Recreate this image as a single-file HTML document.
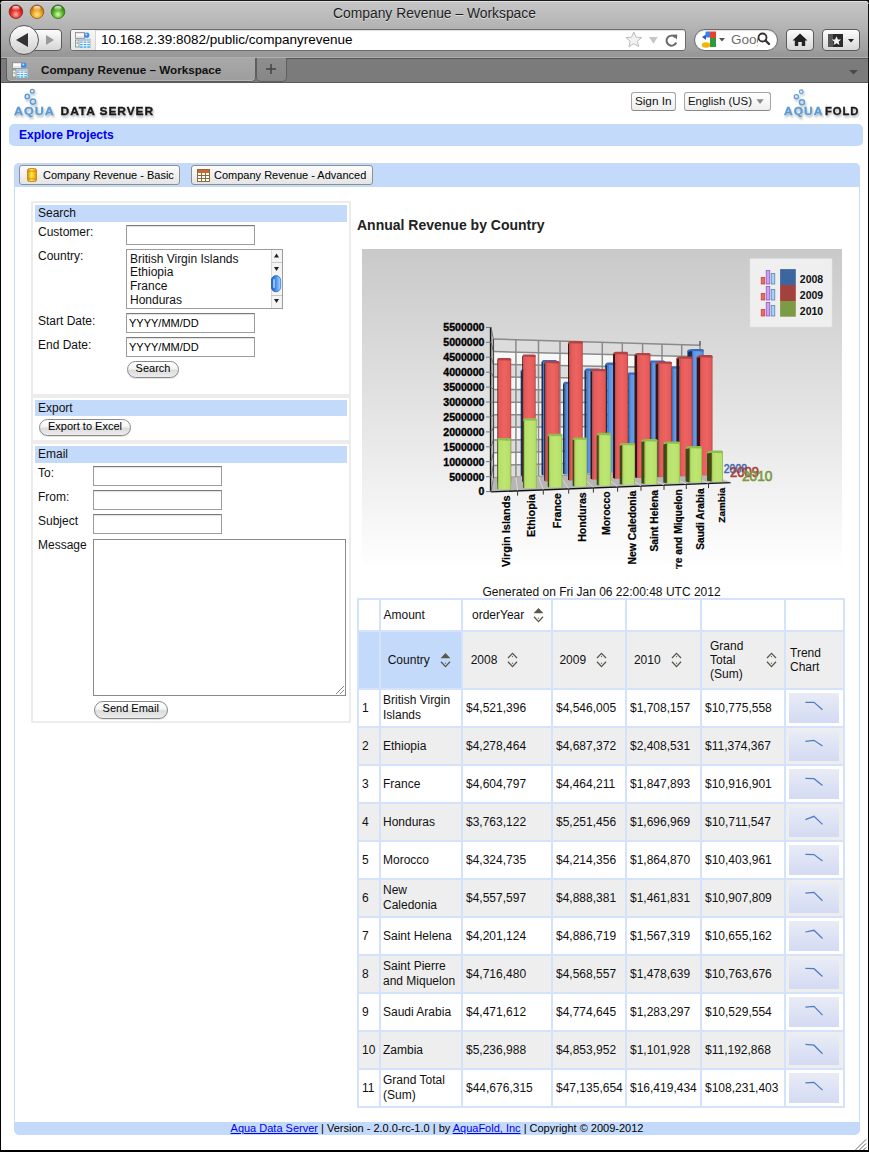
<!DOCTYPE html>
<html><head><meta charset="utf-8">
<style>
*{box-sizing:border-box;margin:0;padding:0}
html,body{width:869px;height:1152px;overflow:hidden;background:#000;font-family:"Liberation Sans",sans-serif;font-size:12px;color:#000}
.a{position:absolute}
#chrome{position:absolute;left:0;top:0;width:869px;height:58px;background:linear-gradient(#1a1a1a 0,#1a1a1a 1px,#e0e0e0 1px,#e0e0e0 2px,#c6c6c6 2px,#b2b2b2 29px,#a0a0a0 50px,#9a9a9a 52px,#979797 57px,#b0b0b0 57px);border-radius:5px 5px 0 0}
#tabbar{position:absolute;left:1px;top:58px;width:867px;height:25px;background:#7b7b7b;border-top:1px solid #555;border-bottom:1px solid #5a5a5a}
#content{position:absolute;left:1px;top:83px;width:867px;height:1067px;background:#fff;overflow:hidden}
.tl{position:absolute;top:5px;width:14px;height:14px;border-radius:50%}
.title{position:absolute;top:3.5px;left:0;width:869px;text-align:center;font-size:13.85px;color:#1e1e1e;text-shadow:0 1px 0 rgba(255,255,255,.5)}
.btn{position:absolute;border:1px solid #5c5c5c;background:linear-gradient(#fdfdfd,#d6d6d6);border-radius:4px}
.tbtn{border:1px solid #8f8f8f;border-radius:3px;background:linear-gradient(#fdfdfd,#e4e4e4)}
.pill{position:absolute;border:1px solid #8a8a8a;border-radius:9px;background:linear-gradient(#fff 0%,#f4f4f4 45%,#dcdcdc 55%,#ececec 100%);font-size:11px;text-align:center;box-shadow:0 1px 0 rgba(0,0,0,.1)}
.inp{position:absolute;border:1px solid #9c9c9c;border-top-color:#7a7a7a;background:#fff;box-shadow:inset 0 1px 1px rgba(0,0,0,.12)}
.sech{position:absolute;left:35px;width:312px;height:17px;background:#c4dafb;font-size:12px;line-height:17px;padding-left:3px;color:#111}
.lbl{position:absolute;left:38px;font-size:12px;color:#111}
.cl{border:1px solid #d4e3fb;overflow:hidden}
.t{position:absolute;font-size:12px;color:#111;white-space:nowrap}
.trend{background:linear-gradient(#e9ecf6,#d3daf2)}
</style></head><body>
<svg width="0" height="0" style="position:absolute"><defs>
<symbol id="fav" viewBox="0 0 16 16">
  <rect x="0.5" y="0.5" width="9" height="6" fill="#e6e6e6" stroke="#8a8a8a" stroke-width="0.8"/>
  <rect x="1.5" y="2" width="7" height="2" fill="#fff"/>
  <circle cx="11.8" cy="3.2" r="2.6" fill="#3a8ee8"/>
  <circle cx="11.3" cy="2.6" r="1" fill="#bfe0ff"/>
  <rect x="0.5" y="8" width="3.5" height="7" fill="#eee" stroke="#8a8a8a" stroke-width="0.8"/>
  <circle cx="2.2" cy="11" r="0.8" fill="#30c030"/>
  <rect x="4.5" y="7" width="11" height="9" fill="#fff" stroke="#9ab" stroke-width="0.5"/>
  <rect x="4.5" y="7" width="11" height="2" fill="#b8c8d8"/>
  <path d="M5 10.2H15M5 12.6H15M5 15H15" stroke="#4aa8e8" stroke-width="1.3"/>
  <path d="M8.2 9V16M11.8 9V16" stroke="#fff" stroke-width="0.8"/>
</symbol></defs></svg>
<div id="chrome">
  <svg class="a" style="left:0;top:0" width="70" height="24">
    <defs>
      <radialGradient id="tlr" cx="50%" cy="70%" r="60%"><stop offset="0" stop-color="#ffb0a8"/><stop offset="0.55" stop-color="#e8332a"/><stop offset="1" stop-color="#b0150e"/></radialGradient>
      <radialGradient id="tlo" cx="50%" cy="70%" r="60%"><stop offset="0" stop-color="#ffe9a0"/><stop offset="0.55" stop-color="#f2a51c"/><stop offset="1" stop-color="#b8650a"/></radialGradient>
      <radialGradient id="tlg" cx="50%" cy="70%" r="60%"><stop offset="0" stop-color="#d8ffb0"/><stop offset="0.55" stop-color="#5cb82a"/><stop offset="1" stop-color="#2e7a10"/></radialGradient>
      <linearGradient id="tlh" x1="0" y1="0" x2="0" y2="1"><stop offset="0" stop-color="#fff" stop-opacity="0.95"/><stop offset="1" stop-color="#fff" stop-opacity="0"/></linearGradient>
    </defs>
    <circle cx="15.9" cy="11.7" r="6.8" fill="url(#tlr)" stroke="#7a2520" stroke-width="0.8"/>
    <ellipse cx="15.9" cy="8.3" rx="3.6" ry="2.4" fill="url(#tlh)"/>
    <circle cx="37" cy="11.7" r="6.8" fill="url(#tlo)" stroke="#8a5a18" stroke-width="0.8"/>
    <ellipse cx="37" cy="8.3" rx="3.6" ry="2.4" fill="url(#tlh)"/>
    <circle cx="58" cy="11.7" r="6.8" fill="url(#tlg)" stroke="#2f6a1a" stroke-width="0.8"/>
    <ellipse cx="58" cy="8.3" rx="3.6" ry="2.4" fill="url(#tlh)"/>
  </svg>
  <div class="title" style="top:4.5px">Company Revenue – Workspace</div>
  <!-- back/forward -->
  <div class="btn" style="left:34px;top:29px;width:28px;height:22px;border-radius:0 4px 4px 0"></div>
  <div class="a" style="left:9px;top:25px;width:30px;height:30px;border-radius:50%;border:1px solid #555;background:linear-gradient(#fefefe,#d0d0d0)"></div>
  <svg class="a" style="left:0;top:0" width="869" height="58">
    <path d="M16 40 L28 33 L28 47 Z" fill="#333"/>
    <path d="M46 35 L54 40 L46 45 Z" fill="#9a9a9a"/>
  </svg>
  <!-- url bar -->
  <div class="a" style="left:70px;top:29px;width:616px;height:22px;background:#fff;border:1px solid #6a6a6a;border-radius:3px;box-shadow:inset 0 1px 1px rgba(0,0,0,.12)"></div>
  <div class="a" style="left:71px;top:30px;width:25px;height:20px;background:linear-gradient(#f6f6f6,#e8e8e8);border-right:1px solid #d4d4d4;border-radius:2px 0 0 2px"></div>
  <svg class="a" style="left:75px;top:32px" width="16" height="16"><use href="#fav"/></svg>
  <div class="a" style="left:101px;top:32px;font-size:13.5px;color:#000">10.168.2.39:8082/public/companyrevenue</div>
  <svg class="a" style="left:620px;top:25px" width="70" height="30">
    <path d="M13.8 7 L16.1 12.2 L21.6 12.6 L17.4 16.2 L18.7 21.6 L13.8 18.7 L8.9 21.6 L10.2 16.2 L6 12.6 L11.5 12.2Z" fill="#f2f2f2" stroke="#b4b4b4" stroke-width="0.9" stroke-linejoin="round"/>
    <path d="M29 12 L37.8 12 L33.4 18.8Z" fill="#c6c6c6"/>
    <path d="M55.3 12.3 A5 5 0 1 0 56.2 17.5" fill="none" stroke="#6a6a6a" stroke-width="2"/>
    <path d="M52.5 9.8 L57.3 9.6 L56.8 14.4Z" fill="#6a6a6a"/>
  </svg>
  <!-- google -->
  <div class="a" style="left:694px;top:29px;width:84px;height:22px;background:#fff;border:1px solid #6a6a6a;border-radius:11px;box-shadow:inset 0 1px 1px rgba(0,0,0,.12)"></div>
  <svg class="a" style="left:700px;top:31px" width="30" height="18">
    <path d="M2 6 L6 3.5 L6 9Z" fill="#2a5bc8"/>
    <rect x="5.5" y="0.5" width="5" height="6" rx="1" fill="#3b7ee8"/>
    <rect x="10" y="0.5" width="6" height="7" fill="#e8412c"/>
    <rect x="10" y="7" width="6" height="9" fill="#2e9a3a"/>
    <ellipse cx="6" cy="14" rx="4.2" ry="2.8" fill="#f4b400"/>
    <path d="M19 7 L25 7 L22 10.5Z" fill="#555"/>
  </svg>
  <div class="a" style="left:731px;top:32px;font-size:13.5px;color:#6d6d6d;width:27px;overflow:hidden;white-space:nowrap">Goog</div>
  <svg class="a" style="left:756px;top:31px" width="16" height="16"><circle cx="6.5" cy="6.5" r="4" fill="none" stroke="#333" stroke-width="1.8"/><path d="M9.5 9.5 L13 13" stroke="#333" stroke-width="2.4" stroke-linecap="round"/></svg>
  <!-- home / bookmarks -->
  <div class="btn" style="left:786px;top:29px;width:28px;height:22px;border-color:#5a5a5a"></div>
  <svg class="a" style="left:790px;top:31px" width="20" height="18"><path d="M10 2.5 L17.5 9.5 L15.2 9.5 L15.2 15 L11.8 15 L11.8 11 L8.2 11 L8.2 15 L4.8 15 L4.8 9.5 L2.5 9.5Z" fill="#222"/></svg>
  <div class="btn" style="left:822px;top:29px;width:38px;height:22px;border-color:#5a5a5a"></div>
  <svg class="a" style="left:826px;top:31px" width="32" height="18">
    <rect x="2" y="3" width="15" height="13" fill="#2a2a2a"/>
    <rect x="2" y="3" width="5" height="13" fill="#555"/>
    <path d="M10.5 5.2 L11.9 8.4 L15.2 8.6 L12.6 10.8 L13.5 14 L10.5 12.2 L7.5 14 L8.4 10.8 L5.8 8.6 L9.1 8.4Z" fill="#f2f2f2"/>
    <path d="M22 8 L28 8 L25 11.5Z" fill="#222"/>
  </svg>
</div>
<div class="a" style="left:0;top:4px;width:1px;height:80px;background:#111"></div>
<div class="a" style="left:868px;top:4px;width:1px;height:80px;background:#111"></div>
<div id="tabbar">
  <div class="a" style="left:5px;top:-1px;width:250px;height:24px;background:linear-gradient(#a9a9a9,#9d9d9d);border:1px solid #5e5e5e;border-top:none;border-radius:0 0 5px 5px;box-shadow:inset 0 -1px 0 #b8b8b8"></div>
  <div class="a" style="left:255px;top:-1px;width:31px;height:24px;background:linear-gradient(#8e8e8e,#878787);border:1px solid #5e5e5e;border-top:none;border-radius:0 0 5px 5px"></div>
  <svg class="a" style="left:263px;top:3px" width="14" height="14"><path d="M7 2V12M2 7H12" stroke="#444" stroke-width="1.5"/></svg>
  <svg class="a" style="left:11px;top:3px" width="16" height="16"><use href="#fav"/></svg>
  <div class="a" style="left:40px;top:3.5px;font-size:11.7px;color:#111;font-weight:bold">Company Revenue – Workspace</div>
  <svg class="a" style="left:848px;top:10.5px" width="10" height="6"><path d="M0 0 H9 L4.5 4.5Z" fill="#4a4a4a"/></svg>
</div>
<div id="content">
<div id="pg" class="a" style="left:-1px;top:-83px;width:869px;height:1152px">
  <!-- logo left -->
  <svg class="a" style="left:0;top:80px" width="869" height="45">
    <defs><filter id="sh" x="-10%" y="-20%" width="130%" height="160%"><feGaussianBlur in="SourceAlpha" stdDeviation="0.9"/><feOffset dx="1" dy="1.5"/><feComponentTransfer><feFuncA type="linear" slope="0.3"/></feComponentTransfer><feMerge><feMergeNode/><feMergeNode in="SourceGraphic"/></feMerge></filter></defs>
    <g filter="url(#sh)" transform="translate(0,-80)">
    <circle cx="32.3" cy="91.2" r="1.9" fill="none" stroke="#5b9bd5" stroke-width="1.3"/>
    <circle cx="27.3" cy="96.5" r="2.2" fill="none" stroke="#5b9bd5" stroke-width="1.4"/>
    <circle cx="33" cy="101.6" r="2.6" fill="none" stroke="#5b9bd5" stroke-width="1.5"/>
    <text x="14" y="114.5" font-family="Liberation Sans" font-weight="bold" font-size="11.8" textLength="40.7" lengthAdjust="spacingAndGlyphs" letter-spacing="0.9" fill="#5b9bd5" stroke="#5b9bd5" stroke-width="0.3">AQUA</text>
    <text x="60.6" y="114.5" font-family="Liberation Sans" font-weight="bold" font-size="11.8" textLength="93.4" lengthAdjust="spacingAndGlyphs" letter-spacing="0.9" fill="#1a1a1a" stroke="#1a1a1a" stroke-width="0.35">DATA SERVER</text>
    <circle cx="801.3" cy="91.7" r="1.8" fill="none" stroke="#5b9bd5" stroke-width="1.2"/>
    <circle cx="796.4" cy="96.8" r="2.1" fill="none" stroke="#5b9bd5" stroke-width="1.3"/>
    <circle cx="802" cy="102.2" r="2.5" fill="none" stroke="#5b9bd5" stroke-width="1.4"/>
    <text x="784.1" y="114.5" font-family="Liberation Sans" font-weight="bold" font-size="10.9" textLength="39.4" lengthAdjust="spacingAndGlyphs" letter-spacing="0.9" fill="#5b9bd5" stroke="#5b9bd5" stroke-width="0.3">AQUA</text>
    <text x="825" y="114.5" font-family="Liberation Sans" font-weight="bold" font-size="10.9" textLength="34.4" lengthAdjust="spacingAndGlyphs" letter-spacing="0.9" fill="#1a1a1a" stroke="#1a1a1a" stroke-width="0.3">FOLD</text>
    </g>
  </svg>
  <!-- sign in / english -->
  <div class="a" style="left:631px;top:91.5px;width:44.5px;height:19px;border:1px solid #a4a4a4;border-bottom-color:#8a8a8a;border-radius:3px;background:linear-gradient(#fff,#eeeeee);font-size:11.8px;line-height:17px;text-align:center;color:#111">Sign In</div>
  <div class="a" style="left:683.5px;top:91.5px;width:87.5px;height:19px;border:1px solid #a4a4a4;border-bottom-color:#8a8a8a;border-radius:3px;background:linear-gradient(#fff,#eeeeee);font-size:11.4px;line-height:17px;padding-left:3.5px;color:#111">English (US)</div>
  <svg class="a" style="left:755.5px;top:99px" width="9" height="6"><path d="M0.5 0.2 H7.7 L4.1 4.9Z" fill="#8a8a8a"/></svg>
  <!-- explore projects -->
  <div class="a" style="left:9px;top:124px;width:854px;height:22px;background:#c4dafb;border-radius:5px"></div>
  <div class="a" style="left:19px;top:128px;font-size:12px;font-weight:bold;color:#0000ee">Explore Projects</div>
  <!-- panel -->
  <div class="a" style="left:14px;top:163px;width:846px;height:972px;border:1px solid #c4dafb;border-radius:5px 5px 5px 5px;background:#fff"></div>
  <div class="a" style="left:14px;top:163px;width:846px;height:24px;background:#c4dafb;border-radius:5px 5px 0 0"></div>
  <div class="a" style="left:14px;top:1122px;width:846px;height:13px;background:#c4dafb;border-radius:0 0 6px 6px"></div>
  <svg class="a" style="left:854px;top:1138px" width="13" height="12"><path d="M12 1.5L1.5 12M12 5.5L5.5 12M12 9.5L9.5 12" stroke="#555" stroke-width="1"/><path d="M12 2.5L2.5 12M12 6.5L6.5 12" stroke="#fff" stroke-width="0.6"/></svg>
  <div class="a" style="left:14px;top:1122px;width:846px;text-align:center;font-size:11px;line-height:13px;color:#000"><u style="color:#0000ee">Aqua Data Server</u> | Version - 2.0.0-rc-1.0 | by <u style="color:#0000ee">AquaFold, Inc</u> | Copyright © 2009-2012</div>
  <!-- tab buttons -->
  <div class="a tbtn" style="left:19px;top:165px;width:161px;height:20px"></div>
  <svg class="a" style="left:27px;top:167.5px" width="10" height="14"><defs><linearGradient id="cyl" x1="0" x2="1"><stop offset="0" stop-color="#e08a00"/><stop offset="0.45" stop-color="#fff04a"/><stop offset="1" stop-color="#e89000"/></linearGradient></defs><rect x="0.5" y="0.5" width="9" height="13" rx="2" fill="url(#cyl)" stroke="#c07a10" stroke-width="0.8"/><path d="M0.8 3.2H9.2M0.8 10.8H9.2" stroke="#e87a10" stroke-width="0.9"/></svg>
  <div class="a" style="left:43px;top:169px;font-size:11px">Company Revenue - Basic</div>
  <div class="a tbtn" style="left:191px;top:165px;width:182px;height:20px"></div>
  <svg class="a" style="left:197px;top:168.7px" width="14" height="14"><rect x="0.5" y="0.5" width="12" height="12" fill="#fff" stroke="#8a6a3a"/><rect x="1" y="1" width="11" height="3" fill="#c96a2a"/><path d="M1 6.5H12M1 9.5H12M4.5 4V12.5M8.5 4V12.5" stroke="#8a6a3a" stroke-width="1"/></svg>
  <div class="a" style="left:214px;top:169px;font-size:11px">Company Revenue - Advanced</div>
<!-- sidebar -->
  <div class="a" style="left:31px;top:201px;width:320px;height:522px;border:2px solid #ececec;background:#fff"></div>
  <div class="a" style="left:33px;top:394px;width:316px;height:4px;background:#ececec"></div>
  <div class="a" style="left:33px;top:440px;width:316px;height:4px;background:#ececec"></div>
  <div class="sech" style="top:205px">Search</div>
  <div class="lbl" style="top:225px">Customer:</div>
  <div class="inp" style="left:126px;top:225px;width:129px;height:20px"></div>
  <div class="lbl" style="top:249px">Country:</div>
  <div class="inp" style="left:126px;top:249px;width:157px;height:60px;box-shadow:none;border-color:#9c9c9c"></div>
  <div class="a" style="left:130px;top:252.5px;font-size:12px;line-height:13.75px;color:#111">British Virgin Islands<br>Ethiopia<br>France<br>Honduras</div>
  <svg class="a" style="left:271px;top:250px" width="11" height="58">
    <rect x="0" y="0" width="11" height="58" fill="#f4f4f4"/>
    <path d="M0.5 0V58" stroke="#d8d8d8"/>
    <path d="M3 7.5 L5.5 3.5 L8 7.5Z" fill="#222"/>
    <path d="M0 12.5H11" stroke="#c8c8c8"/>
    <path d="M3 17 L5.5 21 L8 17Z" fill="#222"/>
    <defs><linearGradient id="thb" x1="0" x2="1"><stop offset="0" stop-color="#1f5ad0"/><stop offset="0.5" stop-color="#4a90ee"/><stop offset="1" stop-color="#9fdcff"/></linearGradient></defs>
    <rect x="0.3" y="25.6" width="9.4" height="16.2" rx="4.7" fill="url(#thb)" stroke="#1a48b0" stroke-width="0.6"/>
    <rect x="2.2" y="29" width="1.6" height="9" rx="0.8" fill="#c8e4ff" opacity="0.85"/>
    <path d="M0 45.5H11" stroke="#c8c8c8"/>
    <path d="M3 49 L5.5 53 L8 49Z" fill="#222"/>
  </svg>
  <div class="lbl" style="top:314px">Start Date:</div>
  <div class="inp" style="left:126px;top:313px;width:129px;height:20px;font-size:11px;line-height:18px;padding-left:2px">YYYY/MM/DD</div>
  <div class="lbl" style="top:338px">End Date:</div>
  <div class="inp" style="left:126px;top:337px;width:129px;height:20px;font-size:11px;line-height:18px;padding-left:2px">YYYY/MM/DD</div>
  <div class="pill" style="left:127px;top:361px;width:52px;height:17px;line-height:13px">Search</div>
  <div class="sech" style="top:400px;height:16px">Export</div>
  <div class="pill" style="left:39px;top:419px;width:92px;height:17px;line-height:13px">Export to Excel</div>
  <div class="sech" style="top:446px">Email</div>
  <div class="lbl" style="top:466px">To:</div>
  <div class="inp" style="left:93px;top:466px;width:129px;height:20px"></div>
  <div class="lbl" style="top:490px">From:</div>
  <div class="inp" style="left:93px;top:490px;width:129px;height:20px"></div>
  <div class="lbl" style="top:514px">Subject</div>
  <div class="inp" style="left:93px;top:514px;width:129px;height:20px"></div>
  <div class="lbl" style="top:538px">Message</div>
  <div class="inp" style="left:93px;top:539px;width:253px;height:157px;box-shadow:none;border-color:#8a8a8a"></div>
  <svg class="a" style="left:334px;top:684px" width="11" height="11"><path d="M10 2L2 10M10 6L6 10" stroke="#888" stroke-width="1"/></svg>
  <div class="pill" style="left:93.5px;top:701px;width:74.5px;height:17.5px;line-height:13px">Send Email</div>
<!-- chart -->
  <div class="a" style="left:357px;top:217px;font-size:14px;font-weight:bold;color:#222">Annual Revenue by Country</div>
  <svg class="a" style="left:362px;top:249px" width="480" height="320" viewBox="362 249 480 320">
<defs>
<linearGradient id="cbg" x1="0" y1="0" x2="0" y2="1"><stop offset="0" stop-color="#c9c9c9"/><stop offset="0.55" stop-color="#e6e6e6"/><stop offset="1" stop-color="#ffffff"/></linearGradient>
<linearGradient id="gR" x1="0" y1="0" x2="1" y2="0"><stop offset="0" stop-color="#b84444"/><stop offset="0.12" stop-color="#e65a58"/><stop offset="0.5" stop-color="#ec6462"/><stop offset="0.88" stop-color="#e65a58"/><stop offset="1" stop-color="#b04040"/></linearGradient>
<linearGradient id="gB" x1="0" y1="0" x2="1" y2="0"><stop offset="0" stop-color="#3a6ab0"/><stop offset="0.15" stop-color="#5a96e6"/><stop offset="0.5" stop-color="#67a2ee"/><stop offset="0.85" stop-color="#5a96e6"/><stop offset="1" stop-color="#3a68a8"/></linearGradient>
<linearGradient id="gG" x1="0" y1="0" x2="1" y2="0"><stop offset="0" stop-color="#8cb850"/><stop offset="0.12" stop-color="#b6e16a"/><stop offset="0.5" stop-color="#bde672"/><stop offset="0.88" stop-color="#b6e16a"/><stop offset="1" stop-color="#8cb44e"/></linearGradient>
</defs>
<rect x="362" y="249" width="480" height="320" fill="url(#cbg)"/>
<path d="M493.4 478.0 L700.0 471.6 L700.0 460.1 L493.4 465.4Z" fill="#dcdcdc"/>
<path d="M493.4 465.4 L700.0 460.1 L700.0 448.6 L493.4 452.7Z" fill="#f7f7f7"/>
<path d="M493.4 452.7 L700.0 448.6 L700.0 437.2 L493.4 440.1Z" fill="#dcdcdc"/>
<path d="M493.4 440.1 L700.0 437.2 L700.0 425.7 L493.4 427.5Z" fill="#f7f7f7"/>
<path d="M493.4 427.5 L700.0 425.7 L700.0 414.2 L493.4 414.8Z" fill="#dcdcdc"/>
<path d="M493.4 414.8 L700.0 414.2 L700.0 402.7 L493.4 402.2Z" fill="#f7f7f7"/>
<path d="M493.4 402.2 L700.0 402.7 L700.0 391.2 L493.4 389.5Z" fill="#dcdcdc"/>
<path d="M493.4 389.5 L700.0 391.2 L700.0 379.7 L493.4 376.9Z" fill="#f7f7f7"/>
<path d="M493.4 376.9 L700.0 379.7 L700.0 368.3 L493.4 364.3Z" fill="#dcdcdc"/>
<path d="M493.4 364.3 L700.0 368.3 L700.0 356.8 L493.4 351.6Z" fill="#f7f7f7"/>
<path d="M493.4 351.6 L700.0 356.8 L700.0 345.3 L493.4 339.0Z" fill="#dcdcdc"/>
<path d="M493.4 478.0 L700.0 471.6" stroke="#8a8a8a" stroke-width="1.5" fill="none"/>
<path d="M493.4 465.4 L700.0 460.1" stroke="#8a8a8a" stroke-width="1.5" fill="none"/>
<path d="M493.4 452.7 L700.0 448.6" stroke="#8a8a8a" stroke-width="1.5" fill="none"/>
<path d="M493.4 440.1 L700.0 437.2" stroke="#8a8a8a" stroke-width="1.5" fill="none"/>
<path d="M493.4 427.5 L700.0 425.7" stroke="#8a8a8a" stroke-width="1.5" fill="none"/>
<path d="M493.4 414.8 L700.0 414.2" stroke="#8a8a8a" stroke-width="1.5" fill="none"/>
<path d="M493.4 402.2 L700.0 402.7" stroke="#8a8a8a" stroke-width="1.5" fill="none"/>
<path d="M493.4 389.5 L700.0 391.2" stroke="#8a8a8a" stroke-width="1.5" fill="none"/>
<path d="M493.4 376.9 L700.0 379.7" stroke="#8a8a8a" stroke-width="1.5" fill="none"/>
<path d="M493.4 364.3 L700.0 368.3" stroke="#8a8a8a" stroke-width="1.5" fill="none"/>
<path d="M493.4 351.6 L700.0 356.8" stroke="#8a8a8a" stroke-width="1.5" fill="none"/>
<path d="M493.4 339.0 L700.0 345.3" stroke="#8a8a8a" stroke-width="1.5" fill="none"/>
<path d="M493.4 339.0 L493.4 478.0" stroke="#8a8a8a" stroke-width="1.5" fill="none"/>
<path d="M515.9 339.7 L515.9 477.3" stroke="#8a8a8a" stroke-width="1.5" fill="none"/>
<path d="M538.5 340.4 L538.5 476.6" stroke="#8a8a8a" stroke-width="1.5" fill="none"/>
<path d="M560 341.0 L560 475.9" stroke="#8a8a8a" stroke-width="1.5" fill="none"/>
<path d="M581.4 341.7 L581.4 475.3" stroke="#8a8a8a" stroke-width="1.5" fill="none"/>
<path d="M602.3 342.3 L602.3 474.6" stroke="#8a8a8a" stroke-width="1.5" fill="none"/>
<path d="M622.3 342.9 L622.3 474.0" stroke="#8a8a8a" stroke-width="1.5" fill="none"/>
<path d="M642.6 343.5 L642.6 473.4" stroke="#8a8a8a" stroke-width="1.5" fill="none"/>
<path d="M662 344.1 L662 472.8" stroke="#8a8a8a" stroke-width="1.5" fill="none"/>
<path d="M681.7 344.7 L681.7 472.2" stroke="#8a8a8a" stroke-width="1.5" fill="none"/>
<path d="M700 345.3 L700 471.6" stroke="#8a8a8a" stroke-width="1.5" fill="none"/>
<path d="M700 345.3 L700 341" stroke="#222" stroke-width="1"/>
<path d="M493.4 478.0 L700.0 471.6 L731.0 482.3 L491.0 491.6Z" fill="#b6b6b6"/>
<path d="M491.0 491.90000000000003 L731.0 482.6" stroke="#111" stroke-width="1.3"/>
<path d="M493.4 478.0 L491 491.6" stroke="#d8d8d8" stroke-width="1"/>
<path d="M515.9 477.3 L517.6 490.6" stroke="#d8d8d8" stroke-width="1"/>
<path d="M517.6 490.6 L517.6 495.6" stroke="#333" stroke-width="1"/>
<path d="M538.5 476.6 L543.3 489.6" stroke="#d8d8d8" stroke-width="1"/>
<path d="M543.3 489.6 L543.3 494.6" stroke="#333" stroke-width="1"/>
<path d="M560 475.9 L568.7 488.6" stroke="#d8d8d8" stroke-width="1"/>
<path d="M568.7 488.6 L568.7 493.6" stroke="#333" stroke-width="1"/>
<path d="M581.4 475.3 L593.4 487.6" stroke="#d8d8d8" stroke-width="1"/>
<path d="M593.4 487.6 L593.4 492.6" stroke="#333" stroke-width="1"/>
<path d="M602.3 474.6 L617.6 486.7" stroke="#d8d8d8" stroke-width="1"/>
<path d="M617.6 486.7 L617.6 491.7" stroke="#333" stroke-width="1"/>
<path d="M622.3 474.0 L641.0 485.8" stroke="#d8d8d8" stroke-width="1"/>
<path d="M641.0 485.8 L641.0 490.8" stroke="#333" stroke-width="1"/>
<path d="M642.6 473.4 L664.0 484.9" stroke="#d8d8d8" stroke-width="1"/>
<path d="M664.0 484.9 L664.0 489.9" stroke="#333" stroke-width="1"/>
<path d="M662 472.8 L686.3 484.0" stroke="#d8d8d8" stroke-width="1"/>
<path d="M686.3 484.0 L686.3 489.0" stroke="#333" stroke-width="1"/>
<path d="M681.7 472.2 L708.5 483.2" stroke="#d8d8d8" stroke-width="1"/>
<path d="M708.5 483.2 L708.5 488.2" stroke="#333" stroke-width="1"/>
<path d="M700 471.6 L731 482.3" stroke="#d8d8d8" stroke-width="1"/>
<path d="M490.6 327 L490.6 492" stroke="#111" stroke-width="1.5"/>
<path d="M486 491.6 L491 491.6 L493.4 478.0" stroke="#666" stroke-width="0.9" fill="none"/>
<text x="484.5" y="495.4" text-anchor="end" font-family="Liberation Sans" font-weight="bold" font-size="10.6" fill="#000" stroke="#000" stroke-width="0.35">0</text>
<path d="M486 476.7 L491 476.7 L493.4 465.4" stroke="#666" stroke-width="0.9" fill="none"/>
<text x="484.5" y="480.5" text-anchor="end" font-family="Liberation Sans" font-weight="bold" font-size="10.6" fill="#000" stroke="#000" stroke-width="0.35">500000</text>
<path d="M486 461.7 L491 461.7 L493.4 452.7" stroke="#666" stroke-width="0.9" fill="none"/>
<text x="484.5" y="465.5" text-anchor="end" font-family="Liberation Sans" font-weight="bold" font-size="10.6" fill="#000" stroke="#000" stroke-width="0.35">1000000</text>
<path d="M486 446.8 L491 446.8 L493.4 440.1" stroke="#666" stroke-width="0.9" fill="none"/>
<text x="484.5" y="450.6" text-anchor="end" font-family="Liberation Sans" font-weight="bold" font-size="10.6" fill="#000" stroke="#000" stroke-width="0.35">1500000</text>
<path d="M486 431.9 L491 431.9 L493.4 427.5" stroke="#666" stroke-width="0.9" fill="none"/>
<text x="484.5" y="435.7" text-anchor="end" font-family="Liberation Sans" font-weight="bold" font-size="10.6" fill="#000" stroke="#000" stroke-width="0.35">2000000</text>
<path d="M486 417.0 L491 417.0 L493.4 414.8" stroke="#666" stroke-width="0.9" fill="none"/>
<text x="484.5" y="420.8" text-anchor="end" font-family="Liberation Sans" font-weight="bold" font-size="10.6" fill="#000" stroke="#000" stroke-width="0.35">2500000</text>
<path d="M486 402.0 L491 402.0 L493.4 402.2" stroke="#666" stroke-width="0.9" fill="none"/>
<text x="484.5" y="405.8" text-anchor="end" font-family="Liberation Sans" font-weight="bold" font-size="10.6" fill="#000" stroke="#000" stroke-width="0.35">3000000</text>
<path d="M486 387.1 L491 387.1 L493.4 389.5" stroke="#666" stroke-width="0.9" fill="none"/>
<text x="484.5" y="390.9" text-anchor="end" font-family="Liberation Sans" font-weight="bold" font-size="10.6" fill="#000" stroke="#000" stroke-width="0.35">3500000</text>
<path d="M486 372.2 L491 372.2 L493.4 376.9" stroke="#666" stroke-width="0.9" fill="none"/>
<text x="484.5" y="376.0" text-anchor="end" font-family="Liberation Sans" font-weight="bold" font-size="10.6" fill="#000" stroke="#000" stroke-width="0.35">4000000</text>
<path d="M486 357.2 L491 357.2 L493.4 364.3" stroke="#666" stroke-width="0.9" fill="none"/>
<text x="484.5" y="361.0" text-anchor="end" font-family="Liberation Sans" font-weight="bold" font-size="10.6" fill="#000" stroke="#000" stroke-width="0.35">4500000</text>
<path d="M486 342.3 L491 342.3 L493.4 351.6" stroke="#666" stroke-width="0.9" fill="none"/>
<text x="484.5" y="346.1" text-anchor="end" font-family="Liberation Sans" font-weight="bold" font-size="10.6" fill="#000" stroke="#000" stroke-width="0.35">5000000</text>
<path d="M486 327.4 L491 327.4 L493.4 339.0" stroke="#666" stroke-width="0.9" fill="none"/>
<text x="484.5" y="331.2" text-anchor="end" font-family="Liberation Sans" font-weight="bold" font-size="10.6" fill="#000" stroke="#000" stroke-width="0.35">5500000</text>
<path d="M493.4 339 L493.4 478" stroke="#333" stroke-width="0.8"/>
<path d="M520.7 371.1 L522.5 370.1 L522.5 476.3 L520.7 475.5Z" fill="#1c2f55"/><rect x="522.5" y="369.6" width="12.7" height="106.7" fill="url(#gB)"/><path d="M520.7 371.2 L521.3 369.9 L522.5 369.0 L534.0 369.0 L535.2 370.4 L535.2 371.6 L522.5 371.2 L520.7 372.0Z" fill="#3a6ab8"/>
<path d="M541.5 362.2 L543.1 361.2 L543.1 475.4 L541.5 474.6Z" fill="#1c2f55"/><rect x="543.1" y="360.7" width="13.9" height="114.7" fill="url(#gB)"/><path d="M541.5 362.3 L542.1 361.0 L543.1 360.1 L555.8 360.1 L557.0 361.5 L557.0 362.7 L543.1 362.3 L541.5 363.1Z" fill="#3a6ab8"/>
<path d="M563.0 383.9 L564.8 382.9 L564.8 474.5 L563.0 473.7Z" fill="#1c2f55"/><rect x="564.8" y="382.4" width="14.2" height="92.1" fill="url(#gB)"/><path d="M563.0 384.0 L563.6 382.7 L564.8 381.8 L577.8 381.8 L579.0 383.2 L579.0 384.4 L564.8 384.0 L563.0 384.8Z" fill="#3a6ab8"/>
<path d="M584.5 370.7 L586.5 369.7 L586.5 473.6 L584.5 472.8Z" fill="#1c2f55"/><rect x="586.5" y="369.2" width="14.0" height="104.4" fill="url(#gB)"/><path d="M584.5 370.8 L585.1 369.5 L586.5 368.6 L599.3 368.6 L600.5 370.0 L600.5 371.2 L586.5 370.8 L584.5 371.6Z" fill="#3a6ab8"/>
<path d="M605.2 364.7 L607.4 363.7 L607.4 472.8 L605.2 472.0Z" fill="#1c2f55"/><rect x="607.4" y="363.2" width="14.1" height="109.6" fill="url(#gB)"/><path d="M605.2 364.8 L605.8 363.5 L607.4 362.6 L620.3 362.6 L621.5 364.0 L621.5 365.2 L607.4 364.8 L605.2 365.6Z" fill="#3a6ab8"/>
<path d="M626.5 374.5 L628.8 373.5 L628.8 472.0 L626.5 471.2Z" fill="#1c2f55"/><rect x="628.8" y="373.0" width="14.2" height="99.0" fill="url(#gB)"/><path d="M626.5 374.6 L627.1 373.3 L628.8 372.4 L641.8 372.4 L643.0 373.8 L643.0 375.0 L628.8 374.6 L626.5 375.4Z" fill="#3a6ab8"/>
<path d="M648.5 362.5 L651.0 361.5 L651.0 471.2 L648.5 470.4Z" fill="#1c2f55"/><rect x="651.0" y="361.0" width="14.2" height="110.2" fill="url(#gB)"/><path d="M648.5 362.6 L649.1 361.3 L651.0 360.4 L664.0 360.4 L665.2 361.8 L665.2 363.0 L651.0 362.6 L648.5 363.4Z" fill="#3a6ab8"/>
<path d="M669.5 368.3 L672.0 367.3 L672.0 470.4 L669.5 469.6Z" fill="#1c2f55"/><rect x="672.0" y="366.8" width="14.6" height="103.6" fill="url(#gB)"/><path d="M669.5 368.4 L670.1 367.1 L672.0 366.2 L685.4 366.2 L686.6 367.6 L686.6 368.8 L672.0 368.4 L669.5 369.2Z" fill="#3a6ab8"/>
<path d="M687.4 351.0 L692.0 350.0 L692.0 469.6 L687.4 468.8Z" fill="#1c2f55"/><rect x="692.0" y="349.5" width="11.6" height="120.1" fill="url(#gB)"/><path d="M687.4 351.1 L688.0 349.8 L692.0 348.9 L702.4 348.9 L703.6 350.3 L703.6 351.5 L692.0 351.1 L687.4 351.9Z" fill="#3a6ab8"/>
<path d="M497.2 360.1 L497.8 359.1 L497.8 483.4 L497.2 482.6Z" fill="#3a1414"/><rect x="497.8" y="358.6" width="13.4" height="124.8" fill="url(#gR)"/><path d="M497.2 360.2 L497.8 358.9 L497.8 358.0 L510.0 358.0 L511.2 359.4 L511.2 360.6 L497.8 360.2 L497.2 361.0Z" fill="#b04444"/>
<path d="M522.2 356.5 L523.1 355.5 L523.1 482.3 L522.2 481.5Z" fill="#3a1414"/><rect x="523.1" y="355.0" width="12.5" height="127.3" fill="url(#gR)"/><path d="M522.2 356.6 L522.8 355.3 L523.1 354.4 L534.4 354.4 L535.6 355.8 L535.6 357.0 L523.1 356.6 L522.2 357.4Z" fill="#b04444"/>
<path d="M544.2 363.0 L545.4 362.0 L545.4 481.4 L544.2 480.6Z" fill="#3a1414"/><rect x="545.4" y="361.5" width="14.2" height="119.9" fill="url(#gR)"/><path d="M544.2 363.1 L544.8 361.8 L545.4 360.9 L558.4 360.9 L559.6 362.3 L559.6 363.5 L545.4 363.1 L544.2 363.9Z" fill="#b04444"/>
<path d="M568.0 343.2 L569.5 342.2 L569.5 480.5 L568.0 479.7Z" fill="#3a1414"/><rect x="569.5" y="341.7" width="13.2" height="138.8" fill="url(#gR)"/><path d="M568.0 343.3 L568.6 342.0 L569.5 341.1 L581.5 341.1 L582.7 342.5 L582.7 343.7 L569.5 343.3 L568.0 344.1Z" fill="#b04444"/>
<path d="M590.5 371.0 L592.3 370.0 L592.3 479.6 L590.5 478.8Z" fill="#3a1414"/><rect x="592.3" y="369.5" width="13.7" height="110.1" fill="url(#gR)"/><path d="M590.5 371.1 L591.1 369.8 L592.3 368.9 L604.8 368.9 L606.0 370.3 L606.0 371.5 L592.3 371.1 L590.5 371.9Z" fill="#b04444"/>
<path d="M613.0 353.9 L615.2 352.9 L615.2 478.8 L613.0 478.0Z" fill="#3a1414"/><rect x="615.2" y="352.4" width="12.8" height="126.4" fill="url(#gR)"/><path d="M613.0 354.0 L613.6 352.7 L615.2 351.8 L626.8 351.8 L628.0 353.2 L628.0 354.4 L615.2 354.0 L613.0 354.8Z" fill="#b04444"/>
<path d="M634.5 355.0 L637.1 354.0 L637.1 478.0 L634.5 477.2Z" fill="#3a1414"/><rect x="637.1" y="353.5" width="13.3" height="124.5" fill="url(#gR)"/><path d="M634.5 355.1 L635.1 353.8 L637.1 352.9 L649.2 352.9 L650.4 354.3 L650.4 355.5 L637.1 355.1 L634.5 355.9Z" fill="#b04444"/>
<path d="M655.6 363.5 L658.5 362.5 L658.5 477.2 L655.6 476.4Z" fill="#3a1414"/><rect x="658.5" y="362.0" width="13.3" height="115.2" fill="url(#gR)"/><path d="M655.6 363.6 L656.2 362.3 L658.5 361.4 L670.6 361.4 L671.8 362.8 L671.8 364.0 L658.5 363.6 L655.6 364.4Z" fill="#b04444"/>
<path d="M676.4 358.5 L679.5 357.5 L679.5 476.4 L676.4 475.6Z" fill="#3a1414"/><rect x="679.5" y="357.0" width="13.0" height="119.4" fill="url(#gR)"/><path d="M676.4 358.6 L677.0 357.3 L679.5 356.4 L691.3 356.4 L692.5 357.8 L692.5 359.0 L679.5 358.6 L676.4 359.4Z" fill="#b04444"/>
<path d="M696.7 357.2 L700.0 356.2 L700.0 475.6 L696.7 474.8Z" fill="#3a1414"/><rect x="700.0" y="355.7" width="12.5" height="119.9" fill="url(#gR)"/><path d="M696.7 357.3 L697.3 356.0 L700.0 355.1 L711.3 355.1 L712.5 356.5 L712.5 357.7 L700.0 357.3 L696.7 358.1Z" fill="#b04444"/>
<path d="M497.2 440.2 L497.8 439.2 L497.8 489.4 L497.2 488.6Z" fill="#3e4a14"/><rect x="497.8" y="438.7" width="13.2" height="50.7" fill="url(#gG)"/><path d="M497.2 440.3 L497.8 439.0 L497.8 438.1 L509.8 438.1 L511.0 439.5 L511.0 440.7 L497.8 440.3 L497.2 441.1Z" fill="#90bc50"/>
<path d="M523.0 420.3 L523.9 419.3 L523.9 488.3 L523.0 487.5Z" fill="#3e4a14"/><rect x="523.9" y="418.8" width="12.9" height="69.5" fill="url(#gG)"/><path d="M523.0 420.4 L523.6 419.1 L523.9 418.2 L535.6 418.2 L536.8 419.6 L536.8 420.8 L523.9 420.4 L523.0 421.2Z" fill="#90bc50"/>
<path d="M547.7 435.8 L549.0 434.8 L549.0 487.4 L547.7 486.6Z" fill="#3e4a14"/><rect x="549.0" y="434.3" width="13.4" height="53.1" fill="url(#gG)"/><path d="M547.7 435.9 L548.3 434.6 L549.0 433.7 L561.2 433.7 L562.4 435.1 L562.4 436.3 L549.0 435.9 L547.7 436.7Z" fill="#90bc50"/>
<path d="M572.6 439.5 L574.3 438.5 L574.3 486.5 L572.6 485.7Z" fill="#3e4a14"/><rect x="574.3" y="438.0" width="12.7" height="48.5" fill="url(#gG)"/><path d="M572.6 439.6 L573.2 438.3 L574.3 437.4 L585.8 437.4 L587.0 438.8 L587.0 440.0 L574.3 439.6 L572.6 440.4Z" fill="#90bc50"/>
<path d="M596.7 434.9 L598.8 433.9 L598.8 485.6 L596.7 484.8Z" fill="#3e4a14"/><rect x="598.8" y="433.4" width="12.2" height="52.2" fill="url(#gG)"/><path d="M596.7 435.0 L597.3 433.7 L598.8 432.8 L609.8 432.8 L611.0 434.2 L611.0 435.4 L598.8 435.0 L596.7 435.8Z" fill="#90bc50"/>
<path d="M619.7 445.0 L622.3 444.0 L622.3 484.8 L619.7 484.0Z" fill="#3e4a14"/><rect x="622.3" y="443.5" width="12.7" height="41.3" fill="url(#gG)"/><path d="M619.7 445.1 L620.3 443.8 L622.3 442.9 L633.8 442.9 L635.0 444.3 L635.0 445.5 L622.3 445.1 L619.7 445.9Z" fill="#90bc50"/>
<path d="M641.4 441.2 L644.5 440.2 L644.5 484.0 L641.4 483.2Z" fill="#3e4a14"/><rect x="644.5" y="439.7" width="13.0" height="44.3" fill="url(#gG)"/><path d="M641.4 441.3 L642.0 440.0 L644.5 439.1 L656.3 439.1 L657.5 440.5 L657.5 441.7 L644.5 441.3 L641.4 442.1Z" fill="#90bc50"/>
<path d="M663.3 443.5 L666.9 442.5 L666.9 483.2 L663.3 482.4Z" fill="#3e4a14"/><rect x="666.9" y="442.0" width="13.1" height="41.2" fill="url(#gG)"/><path d="M663.3 443.6 L663.9 442.3 L666.9 441.4 L678.8 441.4 L680.0 442.8 L680.0 444.0 L666.9 443.6 L663.3 444.4Z" fill="#90bc50"/>
<path d="M685.6 448.1 L689.7 447.1 L689.7 482.4 L685.6 481.6Z" fill="#3e4a14"/><rect x="689.7" y="446.6" width="12.3" height="35.8" fill="url(#gG)"/><path d="M685.6 448.2 L686.2 446.9 L689.7 446.0 L700.8 446.0 L702.0 447.4 L702.0 448.6 L689.7 448.2 L685.6 449.0Z" fill="#90bc50"/>
<path d="M707.0 452.7 L711.8 451.7 L711.8 481.6 L707.0 480.8Z" fill="#3e4a14"/><rect x="711.8" y="451.2" width="11.2" height="30.4" fill="url(#gG)"/><path d="M707.0 452.8 L707.6 451.5 L711.8 450.6 L721.8 450.6 L723.0 452.0 L723.0 453.2 L711.8 452.8 L707.0 453.6Z" fill="#90bc50"/>
<text transform="translate(509.9,495.5) rotate(-90)" text-anchor="end" font-family="Liberation Sans" font-weight="bold" font-size="10.95" fill="#000" stroke="#000" stroke-width="0.2">h Virgin Islands</text>
<text transform="translate(535.4,494.2) rotate(-90)" text-anchor="end" font-family="Liberation Sans" font-weight="bold" font-size="10.84" fill="#000" stroke="#000" stroke-width="0.2">Ethiopia</text>
<text transform="translate(560.9,493.0) rotate(-90)" text-anchor="end" font-family="Liberation Sans" font-weight="bold" font-size="10.73" fill="#000" stroke="#000" stroke-width="0.2">France</text>
<text transform="translate(586.0,492.3) rotate(-90)" text-anchor="end" font-family="Liberation Sans" font-weight="bold" font-size="10.62" fill="#000" stroke="#000" stroke-width="0.2">Honduras</text>
<text transform="translate(610.2,491.3) rotate(-90)" text-anchor="end" font-family="Liberation Sans" font-weight="bold" font-size="10.51" fill="#000" stroke="#000" stroke-width="0.2">Morocco</text>
<text transform="translate(635.5,490.6) rotate(-90)" text-anchor="end" font-family="Liberation Sans" font-weight="bold" font-size="10.40" fill="#000" stroke="#000" stroke-width="0.2">New Caledonia</text>
<text transform="translate(658.2,489.9) rotate(-90)" text-anchor="end" font-family="Liberation Sans" font-weight="bold" font-size="10.29" fill="#000" stroke="#000" stroke-width="0.2">Saint Helena</text>
<text transform="translate(681.7,489.2) rotate(-90)" text-anchor="end" font-family="Liberation Sans" font-weight="bold" font-size="10.18" fill="#000" stroke="#000" stroke-width="0.2">erre and Miquelon</text>
<text transform="translate(703.6,488.5) rotate(-90)" text-anchor="end" font-family="Liberation Sans" font-weight="bold" font-size="10.07" fill="#000" stroke="#000" stroke-width="0.2">Saudi Arabia</text>
<text transform="translate(724.6,487.8) rotate(-90)" text-anchor="end" font-family="Liberation Sans" font-weight="bold" font-size="9.96" fill="#000" stroke="#000" stroke-width="0.2">Zambia</text>
<text x="723.8" y="473.3" font-family="Liberation Sans" font-size="13" fill="#3f6cb8" stroke="#3f6cb8" stroke-width="0.6" textLength="23.3" lengthAdjust="spacingAndGlyphs">2008</text>
<text x="730" y="477" font-family="Liberation Sans" font-size="13.8" fill="#a8403c" stroke="#a8403c" stroke-width="0.6" textLength="29" lengthAdjust="spacingAndGlyphs">2009</text>
<text x="742" y="480.5" font-family="Liberation Sans" font-size="14.3" fill="#7a9a40" stroke="#7a9a40" stroke-width="0.6" textLength="30.5" lengthAdjust="spacingAndGlyphs">2010</text>
<rect x="750" y="258.7" width="82" height="68.3" fill="#efefef" stroke="#e2e2e2" stroke-width="0.6"/>
<rect x="780.1" y="269.1" width="15.7" height="15.9" fill="#3c66a0"/>
<rect x="780.1" y="285" width="15.7" height="16" fill="#a3413e"/>
<rect x="780.1" y="301" width="15.7" height="15.7" fill="#7d9a45"/>
<text x="799.8" y="282.6" font-family="Liberation Sans" font-weight="bold" font-size="10.5" fill="#111">2008</text>
<rect x="761.2" y="277.5" width="3.6" height="6.5" fill="#ec6a6a" stroke="#c0392b" stroke-width="0.7"/>
<rect x="766.2" y="270.5" width="3.6" height="13.5" fill="#c9a2f0" stroke="#8a4ac8" stroke-width="0.7"/>
<rect x="771.2" y="273.5" width="3.6" height="10.5" fill="#a9d2f4" stroke="#4a7ab0" stroke-width="0.7"/>
<text x="799.8" y="298.5" font-family="Liberation Sans" font-weight="bold" font-size="10.5" fill="#111">2009</text>
<rect x="761.2" y="293.5" width="3.6" height="6.5" fill="#ec6a6a" stroke="#c0392b" stroke-width="0.7"/>
<rect x="766.2" y="286.5" width="3.6" height="13.5" fill="#c9a2f0" stroke="#8a4ac8" stroke-width="0.7"/>
<rect x="771.2" y="289.5" width="3.6" height="10.5" fill="#a9d2f4" stroke="#4a7ab0" stroke-width="0.7"/>
<text x="799.8" y="314.5" font-family="Liberation Sans" font-weight="bold" font-size="10.5" fill="#111">2010</text>
<rect x="761.2" y="309.5" width="3.6" height="6.5" fill="#ec6a6a" stroke="#c0392b" stroke-width="0.7"/>
<rect x="766.2" y="302.5" width="3.6" height="13.5" fill="#c9a2f0" stroke="#8a4ac8" stroke-width="0.7"/>
<rect x="771.2" y="305.5" width="3.6" height="10.5" fill="#a9d2f4" stroke="#4a7ab0" stroke-width="0.7"/>
</svg>
  <div class="a" style="left:358px;top:584.5px;width:487px;text-align:center;font-size:12px;color:#111">Generated on Fri Jan 06 22:00:48 UTC 2012</div>
<!-- /chart -->
<!-- table -->
<div class="a" style="left:357px;top:598px;width:488px;height:510px;border:1px solid #d4e3fb;background:#d4e3fb"></div>
<div class="a cl" style="left:358px;top:599px;width:22px;height:32px;background:#fff;"></div>
<div class="a cl" style="left:380px;top:599px;width:82px;height:32px;background:#fff;"><span class="t" style="left:2.5px;top:8px">Amount</span></div>
<div class="a cl" style="left:462px;top:599px;width:90px;height:32px;background:#fff;"><span class="t" style="left:9px;top:8px">orderYear</span><span class="a" style="left:70px;top:7px"><svg width="11" height="16" style="display:block"><path d="M0.6 6.2 L5.5 0.9 L10.4 6.2Z" fill="#5b5848"/><path d="M1 9.8 L5.5 14.6 L10 9.8" fill="none" stroke="#57554a" stroke-width="1.3"/><circle cx="5.5" cy="11.2" r="0.6" fill="#57554a"/></svg></span></div>
<div class="a cl" style="left:552px;top:599px;width:74px;height:32px;background:#fff;"></div>
<div class="a cl" style="left:626px;top:599px;width:75px;height:32px;background:#fff;"></div>
<div class="a cl" style="left:701px;top:599px;width:84px;height:32px;background:#fff;"></div>
<div class="a cl" style="left:785px;top:599px;width:59px;height:32px;background:#fff;"></div>
<div class="a cl" style="left:358px;top:631px;width:22px;height:58px;background:#c4dafb;"></div>
<div class="a cl" style="left:380px;top:631px;width:82px;height:58px;background:#c4dafb;"><span class="t" style="left:6.7px;top:21px">Country</span><span class="a" style="left:59px;top:20px"><svg width="11" height="16" style="display:block"><path d="M0.6 6.2 L5.5 0.9 L10.4 6.2Z" fill="#5b5848"/><path d="M1 9.8 L5.5 14.6 L10 9.8" fill="none" stroke="#57554a" stroke-width="1.3"/><circle cx="5.5" cy="11.2" r="0.6" fill="#57554a"/></svg></span></div>
<div class="a cl" style="left:462px;top:631px;width:90px;height:58px;background:#eeeeee;"><span class="t" style="left:7.7px;top:21px">2008</span><span class="a" style="left:44px;top:20px"><svg width="11" height="16" style="display:block"><path d="M1 6 L5.5 1.4 L10 6" fill="none" stroke="#57554a" stroke-width="1.3"/><circle cx="5.5" cy="4.6" r="0.6" fill="#57554a"/><path d="M1 9.8 L5.5 14.6 L10 9.8" fill="none" stroke="#57554a" stroke-width="1.3"/><circle cx="5.5" cy="11.2" r="0.6" fill="#57554a"/></svg></span></div>
<div class="a cl" style="left:552px;top:631px;width:74px;height:58px;background:#eeeeee;"><span class="t" style="left:6.4px;top:21px">2009</span><span class="a" style="left:43px;top:20px"><svg width="11" height="16" style="display:block"><path d="M1 6 L5.5 1.4 L10 6" fill="none" stroke="#57554a" stroke-width="1.3"/><circle cx="5.5" cy="4.6" r="0.6" fill="#57554a"/><path d="M1 9.8 L5.5 14.6 L10 9.8" fill="none" stroke="#57554a" stroke-width="1.3"/><circle cx="5.5" cy="11.2" r="0.6" fill="#57554a"/></svg></span></div>
<div class="a cl" style="left:626px;top:631px;width:75px;height:58px;background:#eeeeee;"><span class="t" style="left:6.9px;top:21px">2010</span><span class="a" style="left:44.2px;top:20px"><svg width="11" height="16" style="display:block"><path d="M1 6 L5.5 1.4 L10 6" fill="none" stroke="#57554a" stroke-width="1.3"/><circle cx="5.5" cy="4.6" r="0.6" fill="#57554a"/><path d="M1 9.8 L5.5 14.6 L10 9.8" fill="none" stroke="#57554a" stroke-width="1.3"/><circle cx="5.5" cy="11.2" r="0.6" fill="#57554a"/></svg></span></div>
<div class="a cl" style="left:701px;top:631px;width:84px;height:58px;background:#eeeeee;"><span class="t" style="left:8px;top:7px;line-height:14px">Grand<br>Total<br>(Sum)</span><span class="a" style="left:63.6px;top:20px"><svg width="11" height="16" style="display:block"><path d="M1 6 L5.5 1.4 L10 6" fill="none" stroke="#57554a" stroke-width="1.3"/><circle cx="5.5" cy="4.6" r="0.6" fill="#57554a"/><path d="M1 9.8 L5.5 14.6 L10 9.8" fill="none" stroke="#57554a" stroke-width="1.3"/><circle cx="5.5" cy="11.2" r="0.6" fill="#57554a"/></svg></span></div>
<div class="a cl" style="left:785px;top:631px;width:59px;height:58px;background:#eeeeee;"><span class="t" style="left:4px;top:14px;line-height:14px">Trend<br>Chart</span></div>
<div class="a cl" style="left:358px;top:689px;width:22px;height:38px;background:#fff;"><span class="t" style="left:3px;top:11px;line-height:15px">1</span></div>
<div class="a cl" style="left:380px;top:689px;width:82px;height:38px;background:#fff;"><span class="t" style="left:2px;top:3px;line-height:15px">British Virgin<br>Islands</span></div>
<div class="a cl" style="left:462px;top:689px;width:90px;height:38px;background:#fff;"><span class="t" style="left:3px;top:11px;line-height:15px">$4,521,396</span></div>
<div class="a cl" style="left:552px;top:689px;width:74px;height:38px;background:#fff;"><span class="t" style="left:3px;top:11px;line-height:15px">$4,546,005</span></div>
<div class="a cl" style="left:626px;top:689px;width:75px;height:38px;background:#fff;"><span class="t" style="left:3px;top:11px;line-height:15px">$1,708,157</span></div>
<div class="a cl" style="left:701px;top:689px;width:84px;height:38px;background:#fff;"><span class="t" style="left:3px;top:11px;line-height:15px">$10,775,558</span></div>
<div class="a cl" style="left:785px;top:689px;width:59px;height:38px;background:#fff;"><div class="a trend" style="left:3px;top:3px;width:50px;height:30px"><svg class="a" style="left:0;top:0" width="50" height="30"><path d="M16.4 9.4 L25.0 9.3 L33.5 16.8" fill="none" stroke="#4f7cc4" stroke-width="1.25"/></svg></div></div>
<div class="a cl" style="left:358px;top:727px;width:22px;height:38px;background:#eeeeee;"><span class="t" style="left:3px;top:11px;line-height:15px">2</span></div>
<div class="a cl" style="left:380px;top:727px;width:82px;height:38px;background:#eeeeee;"><span class="t" style="left:2px;top:11px;line-height:15px">Ethiopia</span></div>
<div class="a cl" style="left:462px;top:727px;width:90px;height:38px;background:#eeeeee;"><span class="t" style="left:3px;top:11px;line-height:15px">$4,278,464</span></div>
<div class="a cl" style="left:552px;top:727px;width:74px;height:38px;background:#eeeeee;"><span class="t" style="left:3px;top:11px;line-height:15px">$4,687,372</span></div>
<div class="a cl" style="left:626px;top:727px;width:75px;height:38px;background:#eeeeee;"><span class="t" style="left:3px;top:11px;line-height:15px">$2,408,531</span></div>
<div class="a cl" style="left:701px;top:727px;width:84px;height:38px;background:#eeeeee;"><span class="t" style="left:3px;top:11px;line-height:15px">$11,374,367</span></div>
<div class="a cl" style="left:785px;top:727px;width:59px;height:38px;background:#eeeeee;"><div class="a trend" style="left:3px;top:3px;width:50px;height:30px"><svg class="a" style="left:0;top:0" width="50" height="30"><path d="M16.4 10.3 L25.0 9.3 L33.5 15.1" fill="none" stroke="#4f7cc4" stroke-width="1.25"/></svg></div></div>
<div class="a cl" style="left:358px;top:765px;width:22px;height:38px;background:#fff;"><span class="t" style="left:3px;top:11px;line-height:15px">3</span></div>
<div class="a cl" style="left:380px;top:765px;width:82px;height:38px;background:#fff;"><span class="t" style="left:2px;top:11px;line-height:15px">France</span></div>
<div class="a cl" style="left:462px;top:765px;width:90px;height:38px;background:#fff;"><span class="t" style="left:3px;top:11px;line-height:15px">$4,604,797</span></div>
<div class="a cl" style="left:552px;top:765px;width:74px;height:38px;background:#fff;"><span class="t" style="left:3px;top:11px;line-height:15px">$4,464,211</span></div>
<div class="a cl" style="left:626px;top:765px;width:75px;height:38px;background:#fff;"><span class="t" style="left:3px;top:11px;line-height:15px">$1,847,893</span></div>
<div class="a cl" style="left:701px;top:765px;width:84px;height:38px;background:#fff;"><span class="t" style="left:3px;top:11px;line-height:15px">$10,916,901</span></div>
<div class="a cl" style="left:785px;top:765px;width:59px;height:38px;background:#fff;"><div class="a trend" style="left:3px;top:3px;width:50px;height:30px"><svg class="a" style="left:0;top:0" width="50" height="30"><path d="M16.4 9.3 L25.0 9.7 L33.5 16.5" fill="none" stroke="#4f7cc4" stroke-width="1.25"/></svg></div></div>
<div class="a cl" style="left:358px;top:803px;width:22px;height:38px;background:#eeeeee;"><span class="t" style="left:3px;top:11px;line-height:15px">4</span></div>
<div class="a cl" style="left:380px;top:803px;width:82px;height:38px;background:#eeeeee;"><span class="t" style="left:2px;top:11px;line-height:15px">Honduras</span></div>
<div class="a cl" style="left:462px;top:803px;width:90px;height:38px;background:#eeeeee;"><span class="t" style="left:3px;top:11px;line-height:15px">$3,763,122</span></div>
<div class="a cl" style="left:552px;top:803px;width:74px;height:38px;background:#eeeeee;"><span class="t" style="left:3px;top:11px;line-height:15px">$5,251,456</span></div>
<div class="a cl" style="left:626px;top:803px;width:75px;height:38px;background:#eeeeee;"><span class="t" style="left:3px;top:11px;line-height:15px">$1,696,969</span></div>
<div class="a cl" style="left:701px;top:803px;width:84px;height:38px;background:#eeeeee;"><span class="t" style="left:3px;top:11px;line-height:15px">$10,711,547</span></div>
<div class="a cl" style="left:785px;top:803px;width:59px;height:38px;background:#eeeeee;"><div class="a trend" style="left:3px;top:3px;width:50px;height:30px"><svg class="a" style="left:0;top:0" width="50" height="30"><path d="M16.4 12.7 L25.0 9.3 L33.5 17.4" fill="none" stroke="#4f7cc4" stroke-width="1.25"/></svg></div></div>
<div class="a cl" style="left:358px;top:841px;width:22px;height:38px;background:#fff;"><span class="t" style="left:3px;top:11px;line-height:15px">5</span></div>
<div class="a cl" style="left:380px;top:841px;width:82px;height:38px;background:#fff;"><span class="t" style="left:2px;top:11px;line-height:15px">Morocco</span></div>
<div class="a cl" style="left:462px;top:841px;width:90px;height:38px;background:#fff;"><span class="t" style="left:3px;top:11px;line-height:15px">$4,324,735</span></div>
<div class="a cl" style="left:552px;top:841px;width:74px;height:38px;background:#fff;"><span class="t" style="left:3px;top:11px;line-height:15px">$4,214,356</span></div>
<div class="a cl" style="left:626px;top:841px;width:75px;height:38px;background:#fff;"><span class="t" style="left:3px;top:11px;line-height:15px">$1,864,870</span></div>
<div class="a cl" style="left:701px;top:841px;width:84px;height:38px;background:#fff;"><span class="t" style="left:3px;top:11px;line-height:15px">$10,403,961</span></div>
<div class="a cl" style="left:785px;top:841px;width:59px;height:38px;background:#fff;"><div class="a trend" style="left:3px;top:3px;width:50px;height:30px"><svg class="a" style="left:0;top:0" width="50" height="30"><path d="M16.4 9.3 L25.0 9.6 L33.5 16.1" fill="none" stroke="#4f7cc4" stroke-width="1.25"/></svg></div></div>
<div class="a cl" style="left:358px;top:879px;width:22px;height:38px;background:#eeeeee;"><span class="t" style="left:3px;top:11px;line-height:15px">6</span></div>
<div class="a cl" style="left:380px;top:879px;width:82px;height:38px;background:#eeeeee;"><span class="t" style="left:2px;top:3px;line-height:15px">New<br>Caledonia</span></div>
<div class="a cl" style="left:462px;top:879px;width:90px;height:38px;background:#eeeeee;"><span class="t" style="left:3px;top:11px;line-height:15px">$4,557,597</span></div>
<div class="a cl" style="left:552px;top:879px;width:74px;height:38px;background:#eeeeee;"><span class="t" style="left:3px;top:11px;line-height:15px">$4,888,381</span></div>
<div class="a cl" style="left:626px;top:879px;width:75px;height:38px;background:#eeeeee;"><span class="t" style="left:3px;top:11px;line-height:15px">$1,461,831</span></div>
<div class="a cl" style="left:701px;top:879px;width:84px;height:38px;background:#eeeeee;"><span class="t" style="left:3px;top:11px;line-height:15px">$10,907,809</span></div>
<div class="a cl" style="left:785px;top:879px;width:59px;height:38px;background:#eeeeee;"><div class="a trend" style="left:3px;top:3px;width:50px;height:30px"><svg class="a" style="left:0;top:0" width="50" height="30"><path d="M16.4 10.1 L25.0 9.3 L33.5 17.7" fill="none" stroke="#4f7cc4" stroke-width="1.25"/></svg></div></div>
<div class="a cl" style="left:358px;top:917px;width:22px;height:38px;background:#fff;"><span class="t" style="left:3px;top:11px;line-height:15px">7</span></div>
<div class="a cl" style="left:380px;top:917px;width:82px;height:38px;background:#fff;"><span class="t" style="left:2px;top:11px;line-height:15px">Saint Helena</span></div>
<div class="a cl" style="left:462px;top:917px;width:90px;height:38px;background:#fff;"><span class="t" style="left:3px;top:11px;line-height:15px">$4,201,124</span></div>
<div class="a cl" style="left:552px;top:917px;width:74px;height:38px;background:#fff;"><span class="t" style="left:3px;top:11px;line-height:15px">$4,886,719</span></div>
<div class="a cl" style="left:626px;top:917px;width:75px;height:38px;background:#fff;"><span class="t" style="left:3px;top:11px;line-height:15px">$1,567,319</span></div>
<div class="a cl" style="left:701px;top:917px;width:84px;height:38px;background:#fff;"><span class="t" style="left:3px;top:11px;line-height:15px">$10,655,162</span></div>
<div class="a cl" style="left:785px;top:917px;width:59px;height:38px;background:#fff;"><div class="a trend" style="left:3px;top:3px;width:50px;height:30px"><svg class="a" style="left:0;top:0" width="50" height="30"><path d="M16.4 11.0 L25.0 9.3 L33.5 17.5" fill="none" stroke="#4f7cc4" stroke-width="1.25"/></svg></div></div>
<div class="a cl" style="left:358px;top:955px;width:22px;height:38px;background:#eeeeee;"><span class="t" style="left:3px;top:11px;line-height:15px">8</span></div>
<div class="a cl" style="left:380px;top:955px;width:82px;height:38px;background:#eeeeee;"><span class="t" style="left:2px;top:3px;line-height:15px">Saint Pierre<br>and Miquelon</span></div>
<div class="a cl" style="left:462px;top:955px;width:90px;height:38px;background:#eeeeee;"><span class="t" style="left:3px;top:11px;line-height:15px">$4,716,480</span></div>
<div class="a cl" style="left:552px;top:955px;width:74px;height:38px;background:#eeeeee;"><span class="t" style="left:3px;top:11px;line-height:15px">$4,568,557</span></div>
<div class="a cl" style="left:626px;top:955px;width:75px;height:38px;background:#eeeeee;"><span class="t" style="left:3px;top:11px;line-height:15px">$1,478,639</span></div>
<div class="a cl" style="left:701px;top:955px;width:84px;height:38px;background:#eeeeee;"><span class="t" style="left:3px;top:11px;line-height:15px">$10,763,676</span></div>
<div class="a cl" style="left:785px;top:955px;width:59px;height:38px;background:#eeeeee;"><div class="a trend" style="left:3px;top:3px;width:50px;height:30px"><svg class="a" style="left:0;top:0" width="50" height="30"><path d="M16.4 9.3 L25.0 9.7 L33.5 17.5" fill="none" stroke="#4f7cc4" stroke-width="1.25"/></svg></div></div>
<div class="a cl" style="left:358px;top:993px;width:22px;height:38px;background:#fff;"><span class="t" style="left:3px;top:11px;line-height:15px">9</span></div>
<div class="a cl" style="left:380px;top:993px;width:82px;height:38px;background:#fff;"><span class="t" style="left:2px;top:11px;line-height:15px">Saudi Arabia</span></div>
<div class="a cl" style="left:462px;top:993px;width:90px;height:38px;background:#fff;"><span class="t" style="left:3px;top:11px;line-height:15px">$4,471,612</span></div>
<div class="a cl" style="left:552px;top:993px;width:74px;height:38px;background:#fff;"><span class="t" style="left:3px;top:11px;line-height:15px">$4,774,645</span></div>
<div class="a cl" style="left:626px;top:993px;width:75px;height:38px;background:#fff;"><span class="t" style="left:3px;top:11px;line-height:15px">$1,283,297</span></div>
<div class="a cl" style="left:701px;top:993px;width:84px;height:38px;background:#fff;"><span class="t" style="left:3px;top:11px;line-height:15px">$10,529,554</span></div>
<div class="a cl" style="left:785px;top:993px;width:59px;height:38px;background:#fff;"><div class="a trend" style="left:3px;top:3px;width:50px;height:30px"><svg class="a" style="left:0;top:0" width="50" height="30"><path d="M16.4 10.1 L25.0 9.3 L33.5 18.1" fill="none" stroke="#4f7cc4" stroke-width="1.25"/></svg></div></div>
<div class="a cl" style="left:358px;top:1031px;width:22px;height:38px;background:#eeeeee;"><span class="t" style="left:3px;top:11px;line-height:15px">10</span></div>
<div class="a cl" style="left:380px;top:1031px;width:82px;height:38px;background:#eeeeee;"><span class="t" style="left:2px;top:11px;line-height:15px">Zambia</span></div>
<div class="a cl" style="left:462px;top:1031px;width:90px;height:38px;background:#eeeeee;"><span class="t" style="left:3px;top:11px;line-height:15px">$5,236,988</span></div>
<div class="a cl" style="left:552px;top:1031px;width:74px;height:38px;background:#eeeeee;"><span class="t" style="left:3px;top:11px;line-height:15px">$4,853,952</span></div>
<div class="a cl" style="left:626px;top:1031px;width:75px;height:38px;background:#eeeeee;"><span class="t" style="left:3px;top:11px;line-height:15px">$1,101,928</span></div>
<div class="a cl" style="left:701px;top:1031px;width:84px;height:38px;background:#eeeeee;"><span class="t" style="left:3px;top:11px;line-height:15px">$11,192,868</span></div>
<div class="a cl" style="left:785px;top:1031px;width:59px;height:38px;background:#eeeeee;"><div class="a trend" style="left:3px;top:3px;width:50px;height:30px"><svg class="a" style="left:0;top:0" width="50" height="30"><path d="M16.4 9.3 L25.0 10.2 L33.5 18.8" fill="none" stroke="#4f7cc4" stroke-width="1.25"/></svg></div></div>
<div class="a cl" style="left:358px;top:1069px;width:22px;height:38px;background:#fff;"><span class="t" style="left:3px;top:11px;line-height:15px">11</span></div>
<div class="a cl" style="left:380px;top:1069px;width:82px;height:38px;background:#fff;"><span class="t" style="left:2px;top:3px;line-height:15px">Grand Total<br>(Sum)</span></div>
<div class="a cl" style="left:462px;top:1069px;width:90px;height:38px;background:#fff;"><span class="t" style="left:3px;top:11px;line-height:15px">$44,676,315</span></div>
<div class="a cl" style="left:552px;top:1069px;width:74px;height:38px;background:#fff;"><span class="t" style="left:3px;top:11px;line-height:15px">$47,135,654</span></div>
<div class="a cl" style="left:626px;top:1069px;width:75px;height:38px;background:#fff;"><span class="t" style="left:3px;top:11px;line-height:15px">$16,419,434</span></div>
<div class="a cl" style="left:701px;top:1069px;width:84px;height:38px;background:#fff;"><span class="t" style="left:3px;top:11px;line-height:15px">$108,231,403</span></div>
<div class="a cl" style="left:785px;top:1069px;width:59px;height:38px;background:#fff;"><div class="a trend" style="left:3px;top:3px;width:50px;height:30px"><svg class="a" style="left:0;top:0" width="50" height="30"><path d="M16.4 9.9 L25.0 9.3 L33.5 17.1" fill="none" stroke="#4f7cc4" stroke-width="1.25"/></svg></div></div>
<!-- /table -->
</div>
</div>
</body></html>
